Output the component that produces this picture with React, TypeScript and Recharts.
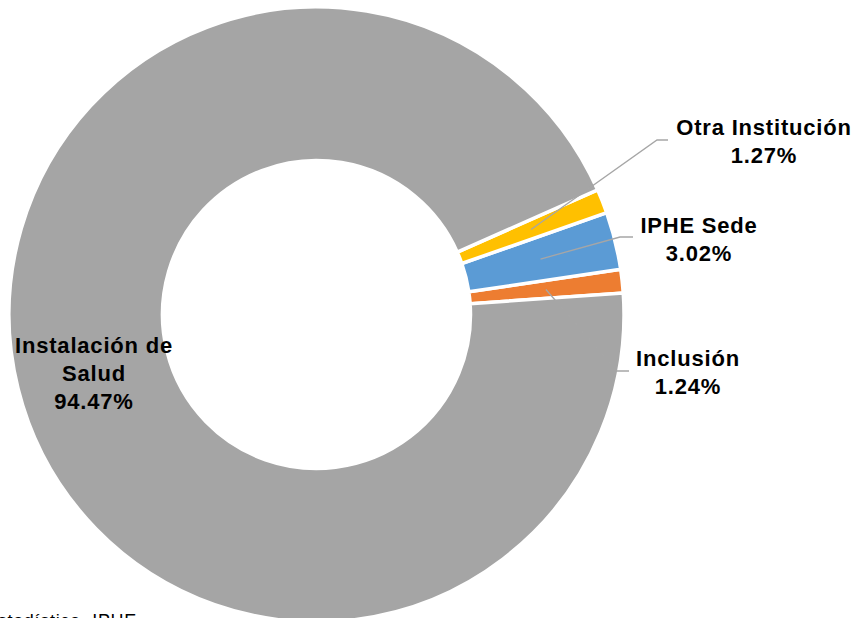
import React from "react";
import { PieChart, Pie, Cell } from "recharts";

const categories = ["Inclusión", "IPHE Sede", "Otra Institución", "Instalación de Salud"];
const shares = [1.24, 3.02, 1.27, 94.47];
const colors = ["#ED7D31", "#5B9BD5", "#FFC000", "#A5A5A5"];

const data = categories.map((name, i) => ({ name, value: shares[i] }));
const total = shares.reduce((a, b) => a + b, 0);

// label boxes and leader-line elbows, as Excel placed them
const labelLayout: Record<string, { x: number; y: number; lines: string[]; elbow?: [number, number]; end?: [number, number] }> = {
  "Inclusión": { x: 688, y: 366, lines: ["Inclusión"], elbow: [617, 371], end: [629, 371] },
  "IPHE Sede": { x: 699, y: 233, lines: ["IPHE Sede"], elbow: [620, 237], end: [633, 237] },
  "Otra Institución": { x: 764, y: 135, lines: ["Otra Institución"], elbow: [657, 140], end: [668, 140] },
  "Instalación de Salud": { x: 94, y: 353, lines: ["Instalación de", "Salud"] },
};

const RAD = Math.PI / 180;

const renderLabel = (props: any) => {
  const { cx, cy, midAngle, innerRadius, outerRadius, index } = props;
  const name = categories[index];
  const lay = labelLayout[name];
  const pct = ((shares[index] / total) * 100).toFixed(2) + "%";
  const r = (innerRadius + outerRadius) / 2;
  const sx = cx + r * Math.cos(-midAngle * RAD);
  const sy = cy + r * Math.sin(-midAngle * RAD);
  const lines = [...lay.lines, pct];
  return (
    <g key={`lbl-${index}`}>
      {lay.elbow && lay.end && (
        <polyline
          points={`${sx},${sy} ${lay.elbow[0]},${lay.elbow[1]} ${lay.end[0]},${lay.end[1]}`}
          fill="none"
          stroke="#A6A6A6"
          strokeWidth={1.3}
        />
      )}
      <text
        x={lay.x}
        y={lay.y}
        textAnchor="middle"
        fill="#000"
        fontFamily="'Liberation Sans', Arial, sans-serif"
        fontWeight="bold"
        fontSize={22}
        letterSpacing={0.8}
      >
        {lines.map((ln, j) => (
          <tspan key={j} x={lay.x} dy={j === 0 ? 0 : 28}>
            {ln}
          </tspan>
        ))}
      </text>
    </g>
  );
};

export default function App() {
  return (
    <div style={{ position: "absolute", left: 0, top: 0, width: 860, height: 618, overflow: "hidden", background: "#fff" }}>
      <PieChart width={860} height={618} margin={{ top: 0, right: 0, bottom: 0, left: 0 }}>
        <Pie
          data={data}
          dataKey="value"
          nameKey="name"
          cx={316.5}
          cy={314.5}
          innerRadius={154}
          outerRadius={307.5}
          startAngle={4}
          endAngle={364}
          stroke="#FFFFFF"
          strokeWidth={3.5}
          label={renderLabel}
          labelLine={false}
          isAnimationActive={false}
        >
          {data.map((d, i) => (
            <Cell key={d.name} fill={colors[i]} />
          ))}
        </Pie>
        {/* source note, clipped by the frame as in the original */}
        <text
          x={137}
          y={627}
          textAnchor="end"
          fill="#000"
          fontFamily="'Liberation Sans', Arial, sans-serif"
          fontSize={18}
          letterSpacing={0.7}
        >
          Fuente: Departamento de Estadística, IPHE
        </text>
      </PieChart>
    </div>
  );
}
